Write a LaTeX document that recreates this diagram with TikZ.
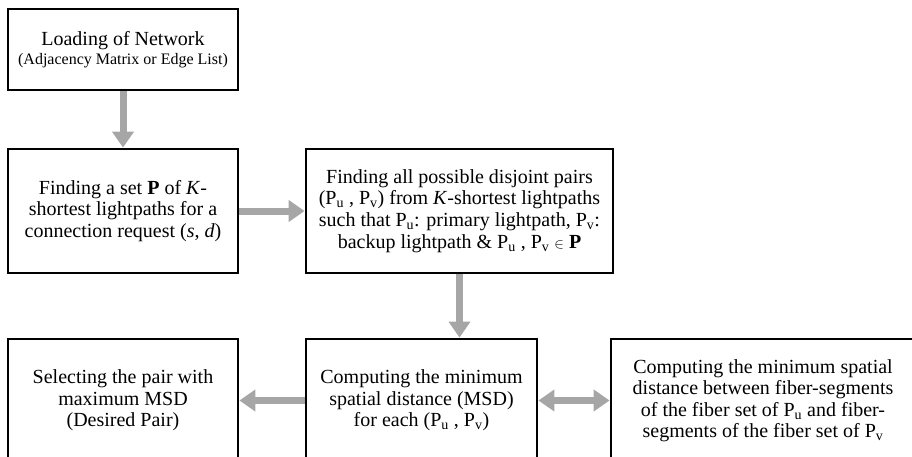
\documentclass[tikz,border=0pt]{standalone}
\usepackage{fontspec}
\setmainfont{Liberation Serif}
\usetikzlibrary{arrows.meta}

\definecolor{flowgray}{HTML}{A6A6A6}

\tikzset{
  stagebox/.style={draw=black, line width=2.8pt, align=center, inner sep=0pt,
    font=\fontsize{20}{21.5}\selectfont},
  flowarrow/.style={draw=flowgray, line width=7pt,
    -{Triangle[width=21pt,length=16pt]}},
  twoway/.style={draw=flowgray, line width=7pt,
    {Triangle[width=21pt,length=16pt]}-{Triangle[width=21pt,length=16pt]}},
}

\begin{document}
\begin{tikzpicture}[x=1pt,y=-1pt]
   \clip (0,0) rectangle (912,457);
   % top row
   \node[stagebox, minimum width=230pt, minimum height=81pt] (load) at (123,49.5)
    {Loading of Network\\[-2pt]{\fontsize{16}{18}\selectfont (Adjacency Matrix or Edge List)}};
   % middle row
   \node[stagebox, minimum width=230pt, minimum height=124pt] (find) at (123,211)
    {Finding a set \textbf{P} of \textit{K}-\\shortest lightpaths for a\\connection request (\textit{s}, \textit{d})};
   \node[stagebox, minimum width=307pt, minimum height=124pt] (pairs) at (459.5,211)
    {Finding all possible disjoint pairs\\(P\textsubscript{u} , P\textsubscript{v}) from \textit{K}-shortest lightpaths\\such that P\textsubscript{u}: primary lightpath, P\textsubscript{v}:\\[1pt]backup lightpath \& P\textsubscript{u} , P\textsubscript{v} {\fontsize{14}{14}\selectfont$\in$} \textbf{P}};
   % bottom row
   \node[stagebox, minimum width=230pt, minimum height=123pt] (select) at (123,400.5)
    {Selecting the pair with\\maximum MSD\\(Desired Pair)};
   \node[stagebox, minimum width=231pt, minimum height=123pt] (msd) at (421.5,400.5)
    {Computing the minimum\\spatial distance (MSD)\\for each (P\textsubscript{u} , P\textsubscript{v})};
   \node[stagebox, minimum width=304pt, minimum height=123pt] (fiber) at (763,400.5)
    {Computing the minimum spatial\\distance between fiber-segments\\of the fiber set of P\textsubscript{u} and fiber-\\segments of the fiber set of P\textsubscript{v}};
   % connectors
   \draw[flowarrow] (load) -- (find);
   \draw[flowarrow] (find) -- (pairs);
   \draw[flowarrow] (pairs.south) -- (pairs.south |- msd.north);
   \draw[flowarrow] (msd) -- (select);
   \draw[twoway] (msd) -- (fiber);
\end{tikzpicture}
\end{document}
